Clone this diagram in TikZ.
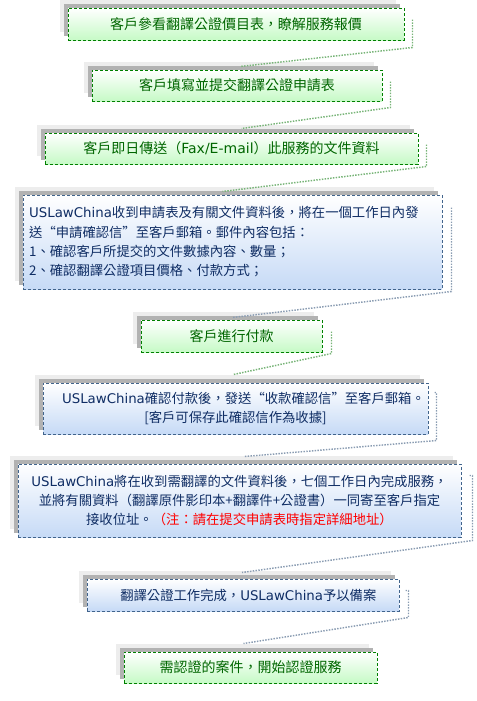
\documentclass[tikz,border=0pt]{standalone}
\usepackage{fontspec}
\newfontfamily\cjk{Noto Sans CJK TC}
\newfontfamily\lat{DejaVu Sans}
\usepackage{tikz}
\usetikzlibrary{calc, shadows}
\definecolor{GreenLine}{HTML}{008000}
\definecolor{GreenText}{HTML}{006600}
\definecolor{GreenFill}{HTML}{C6FAC6}
\definecolor{GreenLink}{HTML}{78B478}
\definecolor{BlueLine}{HTML}{41648C}
\definecolor{BlueText}{HTML}{0F2D64}
\definecolor{BlueFill}{HTML}{C6DAF6}
\definecolor{BlueLink}{HTML}{8A9CB2}

\begin{document}
\begin{tikzpicture}[x=0.75pt, y=-0.75pt,
    boxsize/.style 2 args={minimum width=#1*0.75pt, minimum height=#2*0.75pt},
    box/.style={rectangle, line width=0.75pt, dash pattern=on 2.25pt off 1.5pt, inner sep=0pt,
        general shadow={shadow xshift=-6pt, shadow yshift=6pt, fill=black!7},
        general shadow={shadow xshift=-3pt, shadow yshift=3pt, fill=black!30}},
    greenbox/.style={box, draw=GreenLine, top color=white, bottom color=GreenFill,
        text=GreenText, font=\cjk\fontsize{10.5}{14}\selectfont},
    bluebox/.style={box, draw=BlueLine, top color=white, bottom color=BlueFill,
        text=BlueText, font=\cjk\fontsize{10}{14.5}\selectfont, align=center},
    link/.style={line width=1.1pt, densely dotted},
    greenlink/.style={link, draw=GreenLink},
    bluelink/.style={link, draw=BlueLink}]
    \useasboundingbox (0,0) rectangle (477,701);

    % Steps
    \node[greenbox, boxsize={336}{32}] (b1) at (236, 24) {客戶參看翻譯公證價目表，瞭解服務報價};
    \node[greenbox, boxsize={290}{31}] (b2) at (237, 85.5) {客戶填寫並提交翻譯公證申請表};
    \node[greenbox, boxsize={373}{31}] (b3) at (231.5, 148.5) {客戶即日傳送（{\lat Fax/E-mail}）此服務的文件資料};
    \node[bluebox, boxsize={419}{94}, text width=305pt, align=left] (b4) at (232.5, 242)
        {{\lat USLawChina}收到申請表及有關文件資料後，將在一個工作日內發\\
         送“申請確認信”至客戶郵箱。郵件內容包括：\\
         1、確認客戶所提交的文件數據內容、數量；\\
         2、確認翻譯公證項目價格、付款方式；};
    \node[greenbox, boxsize={181}{32}] (b5) at (231.5, 336) {客戶進行付款};
    \node[bluebox, boxsize={385}{51}] (b6) at (235.5, 408.5)
        {\hspace*{12pt}{\lat USLawChina}確認付款後，發送“收款確認信”至客戶郵箱。\\{}%
         [客戶可保存此確認信作為收據]};
    \node[bluebox, boxsize={443}{73}] (b7) at (239.5, 500.5)
        {{\lat USLawChina}將在收到需翻譯的文件資料後，七個工作日內完成服務，\\
         並將有關資料（翻譯原件影印本+翻譯件+公證書）一同寄至客戶指定\\
         接收位址。{\color{red}（注：請在提交申請表時指定詳細地址）}};
    \node[bluebox, boxsize={312}{32}] (b8) at (243, 595) {\hspace*{8pt}翻譯公證工作完成，{\lat USLawChina}予以備案};
    \node[greenbox, boxsize={253}{31}] (b9) at (250.5, 667.5) {需認證的案件，開始認證服務};

    % Links
    \draw[greenlink] ($(b1.north east)+(8,12)$) -- ($(b1.south east)+(8,7)$) -- ($(b2.north)+(3,-3)$);
    \draw[greenlink] ($(b2.north east)+(8,12)$) -- ($(b2.south east)+(8,6)$) -- ($(b3.north)+(10,-4)$);
    \draw[greenlink] ($(b3.north east)+(8,12)$) -- ($(b3.south east)+(8,2)$) -- ($(b4.north)+(-10,-3)$);
    \draw[bluelink] ($(b4.north east)+(9,13)$) -- ($(b4.south east)+(9,2)$) -- ($(b5.north)+(1,-2)$);
    \draw[greenlink] ($(b5.north east)+(9,12)$) -- ($(b5.south east)+(9,1)$) -- ($(b6.north)+(-2,-8)$);
    \draw[bluelink] ($(b6.north east)+(6,10)$) -- ++(2,0) -- ($(b6.south east)+(8,6)$) -- ($(b7.north)+(5,-7)$);
    \draw[bluelink] ($(b7.north east)+(8,12)$) -- ++(3,0) -- ($(b7.south east)+(11,3)$) -- ($(b8.north)+(-1,-6)$);
    \draw[bluelink] ($(b8.north east)+(6,12)$) -- ++(3,0) -- ($(b8.south east)+(9,6)$) -- ($(b9.north)+(-7,-8)$);
\end{tikzpicture}
\end{document}
